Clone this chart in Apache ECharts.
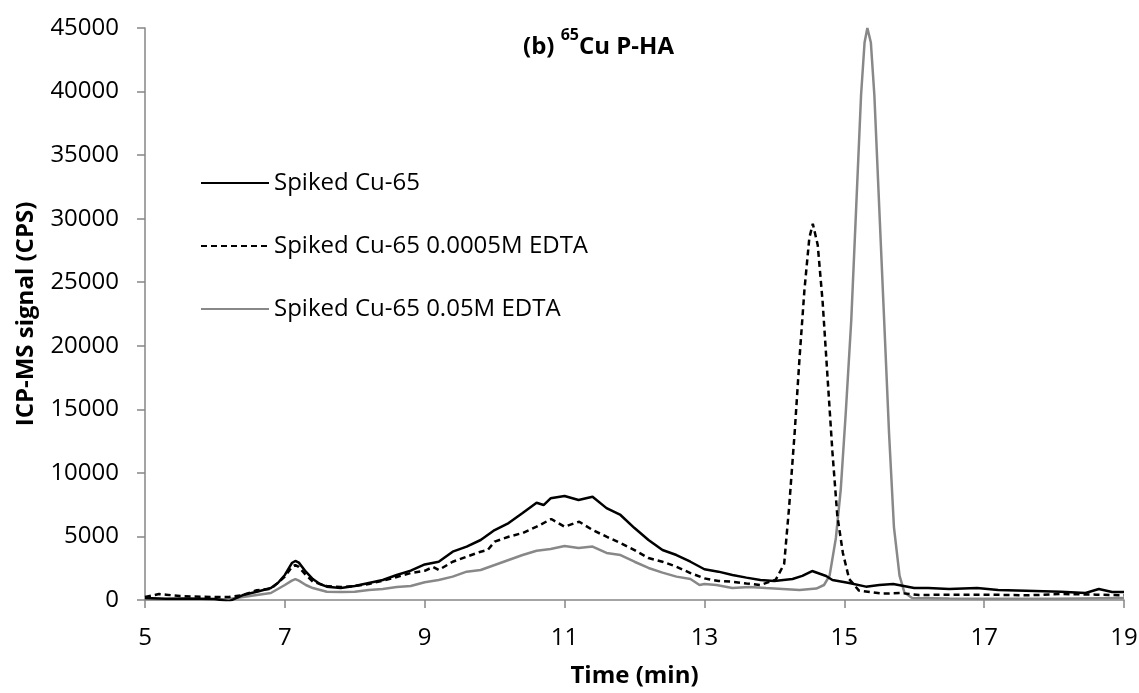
<!DOCTYPE html>
<html>
<head>
<meta charset="utf-8">
<script src="https://cdn.jsdelivr.net/npm/echarts@6/dist/echarts.min.js"></script>
<style>
html,body{margin:0;padding:0;background:#fff;}
#chart{width:1139px;height:693px;}
</style>
</head>
<body>
<div id="chart"></div>
<script>
// Time axis (min)
var timeStart = 5;
var timeEnd = 19;
var timeStep = 2;
var seriesNames = ['Spiked Cu-65', 'Spiked Cu-65 0.0005M EDTA', 'Spiked Cu-65 0.05M EDTA'];

// [time (min), ICP-MS signal (CPS)]
var spikedCu65 = [
  [5.0,150],[5.3,100],[5.6,120],[6.0,80],[6.2,-100],[6.4,390],[6.6,650],[6.8,940],[6.9,1340],
  [7.0,1970],[7.1,2910],[7.15,3070],[7.2,2940],[7.3,2230],[7.4,1650],[7.5,1260],[7.6,1050],
  [7.8,940],[8.0,1100],[8.2,1340],[8.4,1570],[8.6,1970],[8.8,2310],[9.0,2800],[9.2,3010],
  [9.4,3800],[9.6,4200],[9.8,4720],[10.0,5500],[10.2,6050],[10.4,6840],[10.6,7650],[10.7,7470],
  [10.8,8000],[11.0,8180],[11.2,7870],[11.4,8130],[11.6,7230],[11.8,6690],[12.0,5660],
  [12.2,4720],[12.4,3930],[12.6,3540],[12.8,3010],[13.0,2420],[13.2,2230],[13.4,1970],
  [13.6,1760],[13.8,1570],[14.0,1500],[14.26,1650],[14.4,1900],[14.54,2280],[14.74,1890],
  [14.83,1570],[15.07,1340],[15.31,1050],[15.5,1180],[15.7,1260],[16.0,940],[16.2,940],
  [16.5,870],[16.9,940],[17.2,790],[17.6,730],[18.1,650],[18.45,550],[18.64,870],[18.83,630],[19.0,630]
];
var spikedCu65Edta00005 = [
  [5.0,240],[5.2,470],[5.3,420],[5.5,310],[5.8,250],[6.0,240],[6.2,240],[6.4,390],[6.6,770],
  [6.8,870],[7.0,1840],[7.1,2600],[7.15,2750],[7.2,2600],[7.3,1970],[7.4,1440],[7.6,1100],
  [7.8,1020],[8.0,1100],[8.2,1260],[8.4,1520],[8.6,1810],[8.8,2120],[9.0,2300],[9.12,2600],
  [9.2,2360],[9.4,3010],[9.6,3410],[9.8,3800],[9.9,3930],[10.0,4590],[10.2,4980],[10.4,5270],
  [10.6,5770],[10.81,6370],[11.0,5770],[11.21,6160],[11.4,5510],[11.6,4980],[11.8,4480],
  [12.0,3930],[12.2,3300],[12.4,3010],[12.6,2620],[12.8,2120],[13.0,1700],[13.2,1500],
  [13.4,1440],[13.6,1300],[13.8,1180],[14.02,1600],[14.14,2830],[14.21,7240],[14.29,13140],
  [14.36,19040],[14.43,24390],[14.5,28480],[14.55,29600],[14.62,27930],[14.69,23480],
  [14.76,17570],[14.83,11670],[14.9,6650],[14.98,3700],[15.07,1650],[15.21,740],[15.54,500],
  [15.8,550],[16.07,390],[16.5,420],[16.93,420],[17.3,400],[17.64,370],[18.11,470],[18.6,420],[19.0,370]
];
var spikedCu65Edta005 = [
  [5.0,80],[5.5,60],[6.0,50],[6.2,80],[6.4,240],[6.6,390],[6.8,550],[7.0,1180],[7.1,1520],
  [7.15,1650],[7.2,1520],[7.3,1180],[7.4,940],[7.6,650],[7.8,620],[8.0,650],[8.2,790],[8.4,870],
  [8.6,1020],[8.8,1100],[9.0,1400],[9.2,1570],[9.4,1840],[9.6,2230],[9.8,2360],[10.0,2750],
  [10.2,3150],[10.4,3540],[10.6,3880],[10.8,4010],[11.0,4250],[11.2,4090],[11.4,4200],
  [11.6,3700],[11.8,3540],[12.0,3010],[12.2,2520],[12.4,2150],[12.6,1840],[12.8,1650],
  [12.93,1180],[13.0,1260],[13.17,1180],[13.4,940],[13.64,1020],[13.88,940],[14.12,870],
  [14.36,790],[14.6,900],[14.71,1180],[14.79,1920],[14.88,4880],[14.95,8730],[15.02,14630],
  [15.1,22030],[15.17,30860],[15.24,39730],[15.29,43860],[15.33,45000],[15.38,43860],
  [15.43,39730],[15.5,30860],[15.57,22030],[15.64,13140],[15.71,5740],[15.79,1920],[15.86,590],
  [15.97,160],[16.5,120],[17.0,100],[18.0,100],[19.0,150]
];

var FONT = '"Open Sans", "Noto Sans", sans-serif';
var AXIS_GREY = '#868686';

// x is plotted as elapsed time from timeStart so ticks fall on 5, 7, ..., 19
function shift(arr) {
  return arr.map(function (p) { return [p[0] - timeStart, p[1]]; });
}

var chart = echarts.init(document.getElementById('chart'), null, {renderer: 'canvas'});
chart.setOption({
  animation: false,
  backgroundColor: '#ffffff',
  title: {
    text: '{b|(b) }{s|65}{b|Cu P-HA}',
    left: 523,
    top: 27,
    padding: 0,
    textStyle: {
      rich: {
        b: {fontFamily: FONT, fontWeight: 'bold', fontSize: 24, color: '#000', lineHeight: 32, verticalAlign: 'bottom'},
        s: {fontFamily: FONT, fontWeight: 'bold', fontSize: 16, color: '#000', lineHeight: 18, verticalAlign: 'top'}
      }
    }
  },
  legend: {
    orient: 'vertical',
    left: 200,
    top: 171,
    padding: 0,
    itemWidth: 68,
    itemHeight: 14,
    itemGap: 39,
    data: seriesNames,
    itemStyle: {opacity: 0},
    textStyle: {fontFamily: FONT, fontSize: 24, color: '#000', lineHeight: 24}
  },
  grid: {left: 145, right: 15, top: 28, bottom: 93, containLabel: false, outerBoundsMode: 'none'},
  xAxis: {
    type: 'value',
    min: 0,
    max: timeEnd - timeStart,
    interval: timeStep,
    name: 'Time (min)',
    nameLocation: 'middle',
    nameGap: 64,
    nameTextStyle: {fontFamily: FONT, fontWeight: 'bold', fontSize: 24, color: '#000'},
    axisLine: {show: true, onZero: false, lineStyle: {color: AXIS_GREY, width: 1.5}},
    axisTick: {show: true, inside: false, length: 8, lineStyle: {color: AXIS_GREY, width: 1.5}},
    axisLabel: {fontFamily: FONT, fontSize: 24, color: '#000', margin: 26, verticalAlign: 'top', lineHeight: 24,
      formatter: function (v) { return String(v + timeStart); }},
    splitLine: {show: false}
  },
  yAxis: {
    type: 'value',
    min: 0,
    max: 45000,
    interval: 5000,
    name: 'ICP-MS signal (CPS)',
    nameLocation: 'middle',
    nameGap: 107,
    nameTextStyle: {fontFamily: FONT, fontWeight: 'bold', fontSize: 24, color: '#000'},
    axisLine: {show: true, lineStyle: {color: AXIS_GREY, width: 1.5}},
    axisTick: {show: true, inside: false, length: 8, lineStyle: {color: AXIS_GREY, width: 1.5}},
    axisLabel: {fontFamily: FONT, fontSize: 24, color: '#000', margin: 26,
      formatter: function (v) { return String(v); }},
    splitLine: {show: false}
  },
  series: [
    {
      name: seriesNames[0], type: 'line', data: shift(spikedCu65), symbol: 'none', clip: true,
      lineStyle: {color: '#000000', width: 2.5}, itemStyle: {color: '#000000'}, z: 3
    },
    {
      name: seriesNames[1], type: 'line', data: shift(spikedCu65Edta00005), symbol: 'none', clip: true,
      lineStyle: {color: '#000000', width: 2.5, type: [6, 4]}, itemStyle: {color: '#000000'}, z: 2
    },
    {
      name: seriesNames[2], type: 'line', data: shift(spikedCu65Edta005), symbol: 'none', clip: true,
      lineStyle: {color: '#888888', width: 2.5}, itemStyle: {color: '#888888'}, z: 1
    }
  ]
});
</script>
</body>
</html>
